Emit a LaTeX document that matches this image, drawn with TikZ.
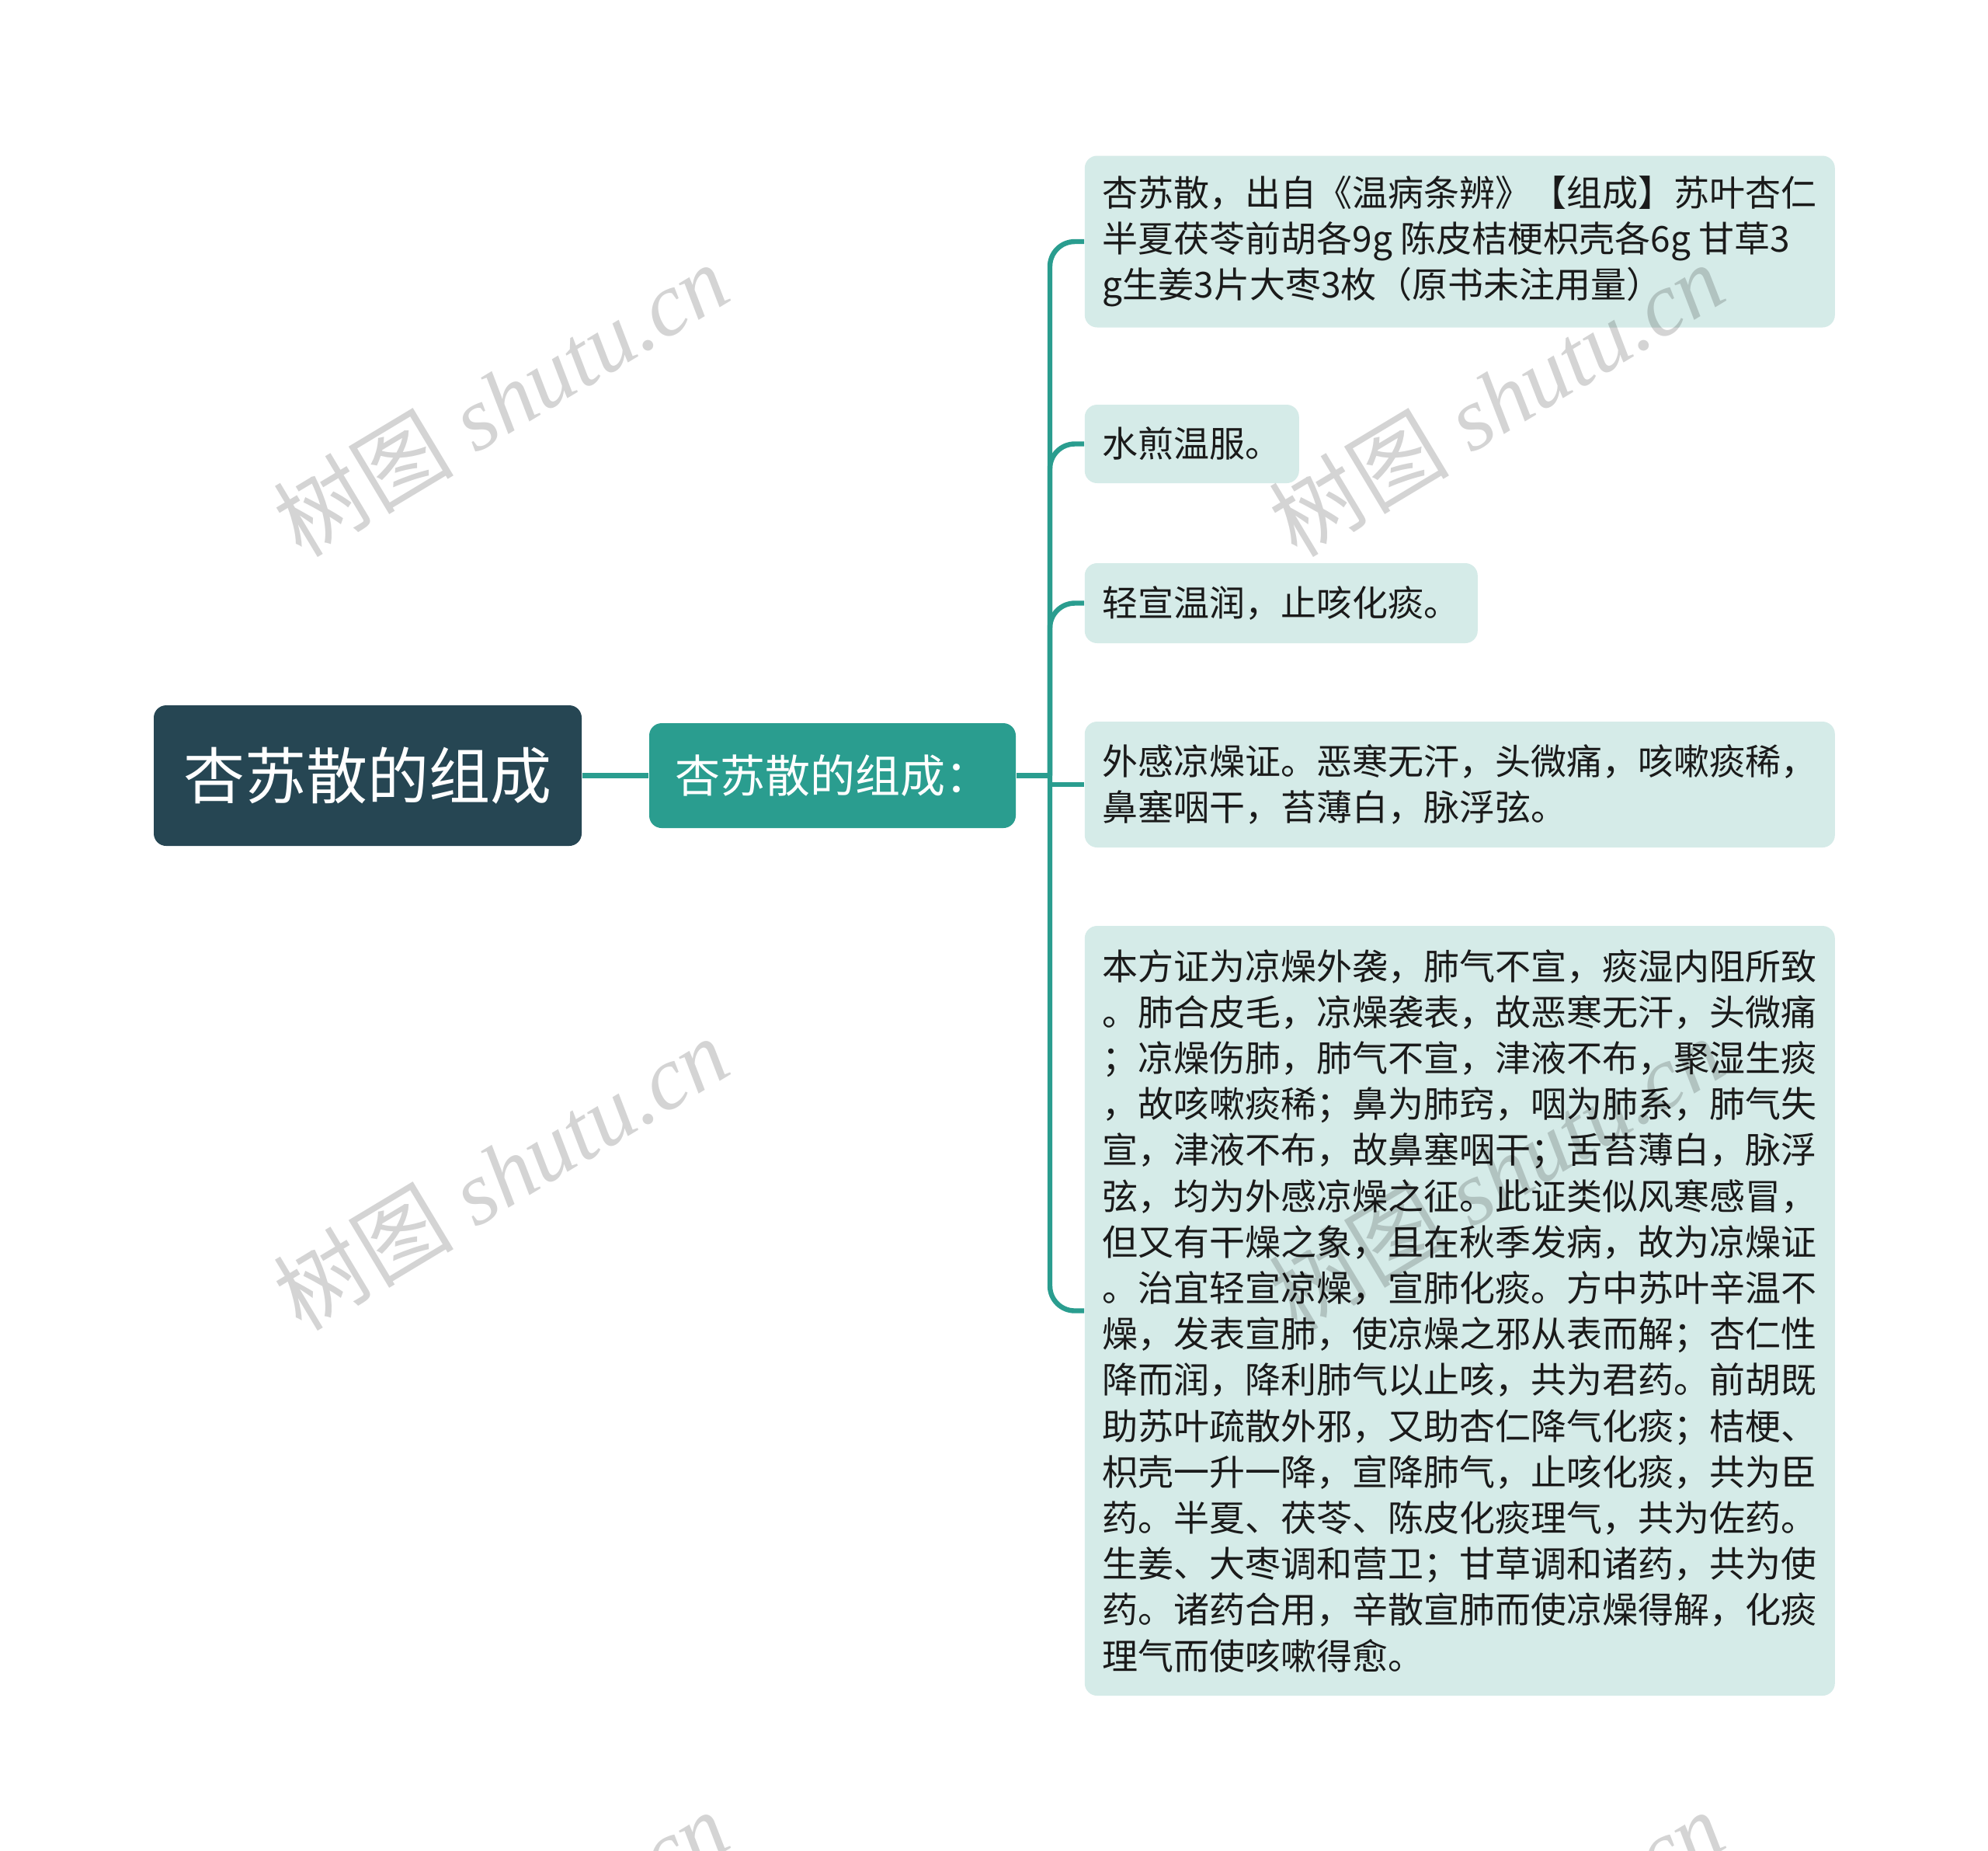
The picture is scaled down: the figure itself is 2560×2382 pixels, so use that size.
\documentclass[tikz,border=0pt]{standalone}
\usepackage{fontspec}
\setmainfont{Noto Sans CJK SC}
\newfontfamily\cjkf{Noto Sans CJK SC}
\newfontfamily\wmfont{Liberation Serif}
\definecolor{rootc}{HTML}{264653}
\definecolor{subc}{HTML}{2A9D8F}
\definecolor{leafc}{HTML}{D5EBE8}
\definecolor{linec}{HTML}{2A9D8F}
\definecolor{leaftext}{HTML}{1A1A1A}
\tikzset{
  rootbox/.style={rectangle, rounded corners=4pt, fill=rootc, text=white, inner sep=0pt,
    minimum width=137.75pt, minimum height=45.25pt, font=\fontsize{19.75pt}{24pt}\selectfont},
  subbox/.style={rectangle, rounded corners=4pt, fill=subc, text=white, inner sep=0pt,
    minimum width=118pt, minimum height=33.75pt, font=\fontsize{14.5pt}{17pt}\selectfont},
  leafbox/.style={rectangle, rounded corners=4pt, fill=leafc, text=leaftext, anchor=west,
    align=left, inner xsep=5.75pt, inner ysep=0pt, font=\fontsize{11.5pt}{14.8pt}\selectfont},
  conn/.style={draw=linec, line width=1.6pt},
  wm/.style={text=black, opacity=0.17, font=\wmfont\itshape\fontsize{29pt}{31pt}\selectfont, rotate=31},
}
\begin{document}
\begin{tikzpicture}[x=0.25pt, y=-0.25pt]
\useasboundingbox (0,0) rectangle (2560,2382);
\fill[white] (0,0) rectangle (2560,2382);

\node[rootbox] (root) at (473.5,998.5) {杏苏散的组成};
\node[subbox] (sub) at (1072,998.5) {杏苏散的组成：};

\node[leafbox, minimum height=55.25pt] (l1) at (1396,311)
  {杏苏散，出自《温病条辨》【组成】苏叶杏仁\\半夏茯苓前胡各9g 陈皮桔梗枳壳各6g 甘草3\\g生姜3片大枣3枚（原书未注用量）};
\node[leafbox, minimum height=25.25pt] (l2) at (1396,571.5) {水煎温服。};
\node[leafbox, minimum height=25.75pt] (l3) at (1396,776.5) {轻宣温润，止咳化痰。};
\node[leafbox, minimum height=40.5pt] (l4) at (1396,1010)
  {外感凉燥证。恶寒无汗，头微痛，咳嗽痰稀，\\鼻塞咽干，苔薄白，脉浮弦。};
\node[leafbox, minimum height=247.75pt] (l5) at (1396,1687.5)
  {本方证为凉燥外袭，肺气不宣，痰湿内阻所致\\
   。肺合皮毛，凉燥袭表，故恶寒无汗，头微痛\\
   ；凉燥伤肺，肺气不宣，津液不布，聚湿生痰\\
   ，故咳嗽痰稀；鼻为肺窍，咽为肺系，肺气失\\
   宣，津液不布，故鼻塞咽干；舌苔薄白，脉浮\\
   弦，均为外感凉燥之征。此证类似风寒感冒，\\
   但又有干燥之象，且在秋季发病，故为凉燥证\\
   。治宜轻宣凉燥，宣肺化痰。方中苏叶辛温不\\
   燥，发表宣肺，使凉燥之邪从表而解；杏仁性\\
   降而润，降利肺气以止咳，共为君药。前胡既\\
   助苏叶疏散外邪，又助杏仁降气化痰；桔梗、\\
   枳壳一升一降，宣降肺气，止咳化痰，共为臣\\
   药。半夏、茯苓、陈皮化痰理气，共为佐药。\\
   生姜、大枣调和营卫；甘草调和诸药，共为使\\
   药。诸药合用，辛散宣肺而使凉燥得解，化痰\\
   理气而使咳嗽得愈。};

\coordinate (j) at (1352,998.5);
\draw[conn] (root.east) -- (sub.west);
\draw[conn] (sub.east) -- (j);
\draw[conn, rounded corners=8pt] (j) |- (l1.west);
\draw[conn, rounded corners=8pt] (j) |- (l2.west);
\draw[conn, rounded corners=8pt] (j) |- (l3.west);
\draw[conn] (j) |- (l4.west);
\draw[conn, rounded corners=8pt] (j) |- (l5.west);

\begin{scope}
\clip (0,0) rectangle (2560,2382);
\node[wm] (w1) at (645,514) {{\cjkf 树图} shutu.cn};
\node[wm] (w2) at (1927,514) {{\cjkf 树图} shutu.cn};
\node[wm] (w3) at (645,1510) {{\cjkf 树图} shutu.cn};
\node[wm] (w4) at (1927,1510) {{\cjkf 树图} shutu.cn};
\node[wm] (w5) at (645,2506) {{\cjkf 树图} shutu.cn};
\node[wm] (w6) at (1927,2506) {{\cjkf 树图} shutu.cn};
\end{scope}
\end{tikzpicture}
\end{document}
